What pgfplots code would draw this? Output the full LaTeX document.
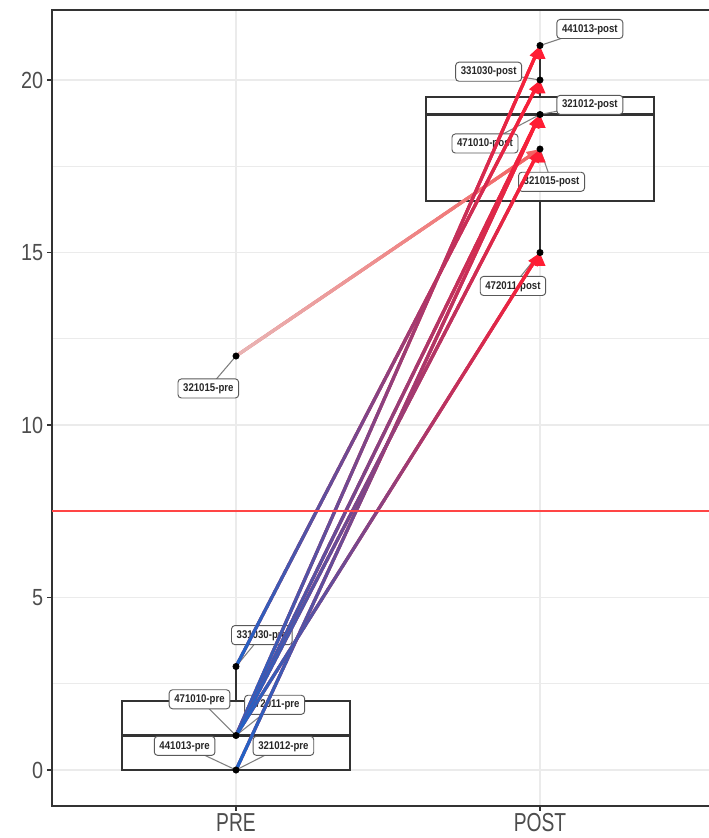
\documentclass[border=0pt]{standalone}
\usepackage{fontspec}
\setmainfont{Liberation Sans}
\usepackage{pgfplots}
\pgfplotsset{compat=1.18}
\usepgfplotslibrary{statistics}
\usetikzlibrary{decorations.markings, arrows.meta}

\definecolor{gridgray}{HTML}{EBEBEB}
\definecolor{framegray}{HTML}{333333}
\definecolor{ticktext}{HTML}{4D4D4D}
\definecolor{lowblue}{HTML}{1E64C8}
\definecolor{highred}{HTML}{FF1E34}
\definecolor{palepink}{HTML}{E8B6B6}
\definecolor{salmon}{HTML}{F36262}
\definecolor{hlinered}{HTML}{FF4545}
\definecolor{seggray}{HTML}{7F7F7F}

% a segment whose colour runs from #1 (start) to #2 (arrow end)
\tikzset{
  link/.style 2 args={
    draw=#2, line width=2.4pt, line cap=butt,
    -{Triangle[length=10pt,width=7.5pt]},
    postaction={decorate, decoration={markings,
      mark=between positions 0 and -8pt step 1pt with {
        \pgfmathsetmacro\mixpct{100*(1-\pgfkeysvalueof{/pgf/decoration/mark info/distance from start}/\pgfdecoratedpathlength)}%
        \colorlet{linkcol}{#1!\mixpct!#2}%
        \pgfsetarrows{-}%
        \pgfsetstrokecolor{linkcol}%
        \pgfsetlinewidth{2.4pt}%
        \pgfsetbuttcap
        \pgfpathmoveto{\pgfpoint{-0.7pt}{0pt}}%
        \pgfpathlineto{\pgfpoint{0.7pt}{0pt}}%
        \pgfusepath{stroke}%
      }}}
  },
  idlabel/.style={draw=seggray!70!black, fill=white, rounded corners=2.5pt,
    line width=0.7pt, inner xsep=4.5pt, inner ysep=3.2pt,
    text height=6.3pt, text depth=1.6pt,
    font=\fontsize{8.4}{9}\selectfont\bfseries, text=black!85, xscale=0.86},
  idseg/.style={seggray, line width=0.8pt},
}

\begin{document}
\begin{tikzpicture}
\begin{axis}[
  scale only axis, width=494.75pt, height=597pt,
  xmin=0.3947, xmax=2.5647, ymin=-1.043, ymax=22.03,
  xtick={1,2}, xticklabels={PRE,POST},
  ytick={0,5,10,15,20}, yticklabels={0,5,10,15,20},
  minor ytick={2.5,7.5,12.5,17.5},
  grid=both,
  major grid style={gridgray, line width=0.8pt},
  minor grid style={gridgray, line width=0.45pt},
  tick pos=left, tick align=outside,
  major tick length=3.7pt, minor tick length=0pt,
  axis line style={framegray, line width=0.8pt},
  every tick/.style={framegray, line width=0.8pt},
  xticklabel style={font=\fontsize{19.5}{20}\selectfont, text=ticktext, xscale=0.74, inner sep=1.5pt},
  yticklabel style={font=\fontsize{17.5}{18}\selectfont, text=ticktext, xscale=0.85, inner xsep=3.3pt},
  clip=false,
  boxplot/draw direction=y,
]
% boxplots
\addplot[framegray, line width=1.2pt, boxplot prepared={draw position=1,
  lower whisker=0, lower quartile=0, median=1, upper quartile=2, upper whisker=3,
  box extend=0.75, whisker extend=0, every median/.style={line width=2.4pt}}] coordinates {};
\addplot[framegray, line width=1.2pt, boxplot prepared={draw position=2,
  lower whisker=15, lower quartile=16.5, median=19, upper quartile=19.5, upper whisker=21,
  box extend=0.75, whisker extend=0, every median/.style={line width=2.4pt}}] coordinates {};

% id labels with their leader segments
\addplot[idseg] coordinates {(2.164,21.48) (2,21)} node[pos=0, idlabel] {441013-post};
\addplot[idseg] coordinates {(1.831,20.24) (2,20)} node[pos=0, idlabel] {331030-post};
\addplot[idseg] coordinates {(2.164,19.28) (2,19)} node[pos=0, idlabel] {321012-post};
\addplot[idseg] coordinates {(1.819,18.16) (2,19)} node[pos=0, idlabel] {471010-post};
\addplot[idseg] coordinates {(2.038,17.05) (2,18)} node[pos=0, idlabel] {321015-post};
\addplot[idseg] coordinates {(1.911,14.03) (2,15)} node[pos=0, idlabel] {472011-post};
\addplot[idseg] coordinates {(0.909,11.06) (1,12)} node[pos=0, idlabel] {321015-pre};
\addplot[idseg] coordinates {(1.085,3.91) (1,3)} node[pos=0, idlabel] {331030-pre};
\addplot[idseg] coordinates {(0.880,2.05) (1,1)} node[pos=0, idlabel] {471010-pre};
\addplot[idseg] coordinates {(1.127,1.89) (1,1)} node[pos=0, idlabel] {472011-pre};
\addplot[idseg] coordinates {(0.831,0.70) (1,0)} node[pos=0, idlabel] {441013-pre};
\addplot[idseg] coordinates {(1.156,0.70) (1,0)} node[pos=0, idlabel] {321012-pre};

% pre -> post links
\addplot[link={palepink}{salmon}] coordinates {(1,12) (2,18)};
\addplot[link={lowblue}{highred}] coordinates {(1,3) (2,20)};
\addplot[link={lowblue}{highred}] coordinates {(1,1) (2,21)};
\addplot[link={lowblue}{highred}] coordinates {(1,1) (2,19)};
\addplot[link={lowblue}{highred}] coordinates {(1,0) (2,19)};
\addplot[link={lowblue}{highred}] coordinates {(1,1) (2,18)};
\addplot[link={lowblue}{highred}] coordinates {(1,1) (2,15)};

% observations
\addplot[only marks, mark=*, mark size=2.4pt, black] coordinates {
  (1,0) (1,1) (1,3) (1,12) (2,15) (2,18) (2,19) (2,20) (2,21)};

% reference line
\addplot[draw=hlinered, color=hlinered, line width=1.2pt, mark=none, solid] coordinates {(0.3947,7.5) (2.5647,7.5)};
\end{axis}
\pgfresetboundingbox
\path[use as bounding box] ([xshift=-39pt,yshift=-24pt]current axis.south west)
  rectangle ([xshift=-2pt,yshift=7.5pt]current axis.north east);
\end{tikzpicture}
\end{document}
